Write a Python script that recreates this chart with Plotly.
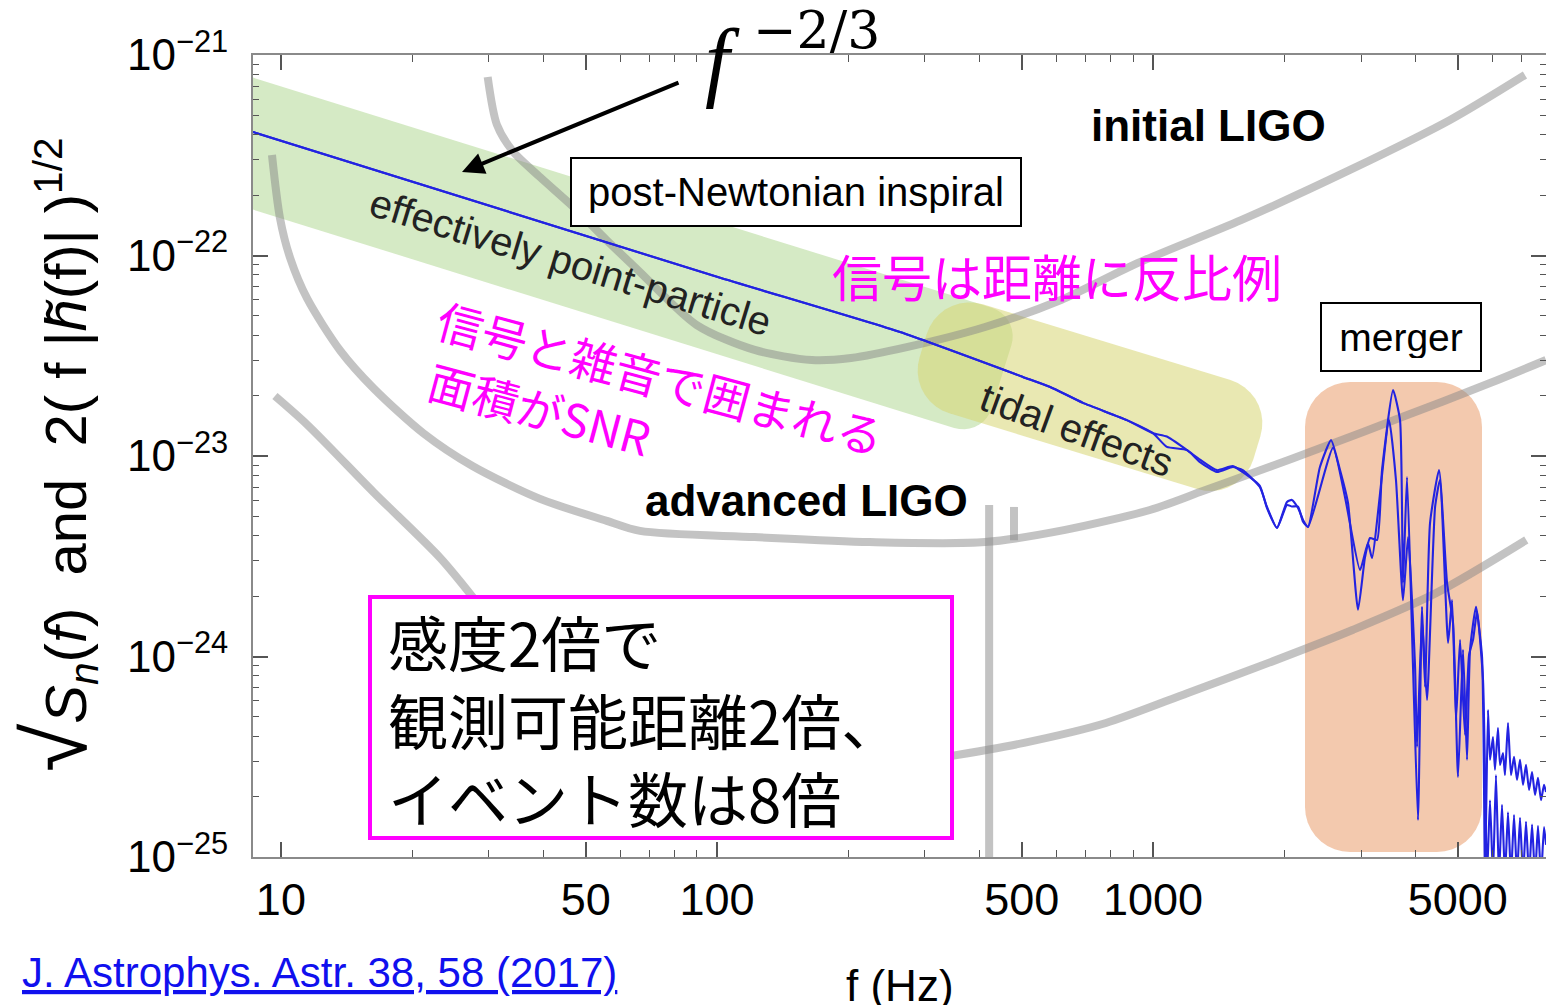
import numpy as np
import plotly.graph_objects as go

# ---------------- figure / axis geometry ----------------
W, H = 1546, 1005
ML, MR, MT, MB = 253, 0, 55, 148
PW, PH = W - ML - MR, H - MT - MB
X_RANGE = [8.63, 7968.0]          # Hz
Y_RANGE = [1e-25, 1e-21]
LX0, LX1 = np.log10(X_RANGE[0]), np.log10(X_RANGE[1])
LY0, LY1 = np.log10(Y_RANGE[0]), np.log10(Y_RANGE[1])

# ---------------- data ----------------
# waveform A
sigA_f = [8.63, 100, 263, 503, 581, 691, 871, 1000, 1076, 1197, 1282, 1402, 1524, 1607, 1758, 1826,
          1925, 2029, 2083, 2151, 2209, 2268, 2415, 2561, 2685, 2801, 2953, 3064, 3147, 3265, 3352,
          3553, 3686, 3745, 3825, 3948, 4053, 4140, 4207, 4319, 4529, 4725, 4877, 5007, 5141, 5251,
          5335, 5506, 5684, 5774, 5866, 5928, 6022, 6086, 6183, 6250, 6349, 6416, 6519, 6623, 6730,
          6838, 6946, 7058, 7170, 7285, 7402, 7519, 7638, 7761, 7886, 7970]
sigA_h = [4.13e-22, 7.83e-23, 4.15e-23, 2.48e-23, 2.21e-23, 1.84e-23, 1.51e-23, 1.30e-23, 1.11e-23,
          1.07e-23, 9.33e-24, 8.32e-24, 8.81e-24, 8.51e-24, 7.00e-24, 5.57e-24, 4.38e-24, 5.90e-24,
          6.04e-24, 5.51e-24, 4.80e-24, 4.43e-24, 8.81e-24, 1.20e-23, 8.51e-24, 5.83e-24, 1.71e-24,
          3.13e-24, 3.90e-24, 3.81e-24, 8.51e-24, 2.13e-23, 1.51e-23, 2.33e-24, 7.85e-24, 8.87e-25,
          1.53e-25, 1.77e-24, 7.05e-25, 4.63e-24, 8.51e-24, 2.33e-24, 1.47e-24, 2.51e-25, 1.08e-24,
          3.05e-25, 1.08e-24, 1.77e-24, 9.95e-25, 8.0e-26, 5.41e-25, 3.05e-25, 3.97e-25, 2.72e-25,
          4.40e-25, 2.88e-25, 3.30e-25, 2.56e-25, 4.66e-25, 2.56e-25, 3.16e-25, 2.42e-25, 3.05e-25,
          2.29e-25, 2.88e-25, 2.16e-25, 2.65e-25, 2.04e-25, 2.48e-25, 1.92e-25, 2.29e-25, 2.11e-25]
# waveform B
sigB_f = [8.63, 100, 263, 503, 581, 691, 871, 1000, 1076, 1197, 1282, 1402, 1524, 1607, 1758, 1826,
          1925, 2029, 2083, 2151, 2209, 2268, 2588, 2756, 2984, 3112, 3179, 3478, 3608, 3745, 3846,
          3991, 4033, 4140, 4251, 4436, 4551, 4751, 4852, 4955, 5061, 5195, 5308, 5421, 5536, 5714,
          5836, 5928, 6022, 6118, 6216, 6316, 6416, 6519, 6623, 6730, 6838, 6946, 7058, 7170, 7285,
          7402, 7519, 7638, 7761, 7886, 7970]
sigB_h = [4.13e-22, 7.83e-23, 4.15e-23, 2.48e-23, 2.21e-23, 1.84e-23, 1.51e-23, 1.30e-23, 1.25e-23,
          1.07e-23, 9.60e-24, 8.50e-24, 8.90e-24, 8.30e-24, 7.10e-24, 5.50e-24, 4.38e-24, 5.70e-24,
          5.60e-24, 5.60e-24, 4.70e-24, 4.43e-24, 1.10e-23, 6.25e-24, 2.70e-24, 3.68e-24, 3.10e-24,
          1.51e-23, 7.59e-24, 1.91e-24, 3.94e-24, 8.87e-25, 3.54e-25, 1.52e-24, 6.07e-25, 5.57e-24,
          7.59e-24, 1.17e-24, 1.91e-24, 4.82e-25, 1.21e-24, 4.06e-25, 1.02e-24, 1.21e-24, 1.67e-24,
          7.64e-25, 8.0e-26, 1.92e-25, 8.0e-26, 2.56e-25, 8.0e-26, 1.82e-25, 8.0e-26, 1.67e-25,
          8.0e-26, 1.62e-25, 8.0e-26, 1.57e-25, 8.0e-26, 1.50e-25, 8.0e-26, 1.45e-25, 8.0e-26,
          1.43e-25, 8.0e-26, 1.41e-25, 1.15e-25]

# detector noise curves
aligo_f = [9.54, 9.95, 10.5, 11.5, 13.7, 16.3, 21.2, 27.5, 39.3, 55.9, 66.6, 122, 224, 412, 629,
           984, 1282, 1668, 2545, 3687, 5929, 7968]
aligo_h = [3.17e-22, 1.54e-22, 9.72e-23, 6.07e-23, 3.34e-23, 2.18e-23, 1.30e-23, 8.91e-24, 6.11e-24,
           4.75e-24, 4.23e-24, 3.94e-24, 3.72e-24, 3.72e-24, 4.28e-24, 5.38e-24, 6.61e-24, 8.13e-24,
           1.14e-23, 1.55e-23, 2.31e-23, 3.01e-23]
iligo_f = [29.8, 31.3, 34.0, 39.3, 46.8, 55.9, 66.6, 89.9, 122, 165, 203, 274, 412, 615, 924, 1592,
           2830, 4800, 7130]
iligo_h = [7.77e-22, 4.48e-22, 3.32e-22, 2.46e-22, 1.75e-22, 1.19e-22, 8.27e-23, 4.50e-23, 3.38e-23,
           3.01e-23, 3.08e-23, 3.50e-23, 4.40e-23, 6.00e-23, 9.18e-23, 1.50e-22, 2.67e-22, 4.74e-22,
           7.95e-22]
third_f = [9.69, 11.5, 16.3, 23.2, 27.9, None, 333, 506, 780, 1202, 1866, 2877, 4456, 7180]
third_h = [1.99e-23, 1.43e-23, 6.61e-24, 3.10e-24, 1.91e-24, None, 3.15e-25, 3.71e-25, 4.66e-25,
           6.58e-25, 9.40e-25, 1.36e-24, 2.07e-24, 3.81e-24]
spike_f = [421, 421, None, 480, 480]
spike_h = [5.70e-24, 9.0e-26, None, 5.57e-24, 3.80e-24]

x_major = [10, 50, 100, 500, 1000, 5000]
x_major_text = ["10", "50", "100", "500", "1000", "5000"]
x_minor = [20, 30, 40, 60, 70, 80, 90, 200, 300, 400, 600, 700, 800, 900,
           2000, 3000, 4000, 6000, 7000]
y_major = [1e-25, 1e-24, 1e-23, 1e-22, 1e-21]
y_major_text = ["10<sup>−25</sup>", "10<sup>−24</sup>", "10<sup>−23</sup>",
                "10<sup>−22</sup>", "10<sup>−21</sup>"]
y_minor = [m * 10.0 ** e for e in range(-25, -21) for m in range(2, 10)]


# ---------------- helpers (pixel layout -> data / paper) ----------------
def px2data(xs, ys):
    xs, ys = np.asarray(xs, float), np.asarray(ys, float)
    f = 10 ** (LX0 + (xs - ML) / PW * (LX1 - LX0))
    h = 10 ** (LY1 - (ys - MT) / PH * (LY1 - LY0))
    return f, h


def pp(px, py):
    return (px - ML) / PW, (H - MB - py) / PH


def rounded_rect_px(cx, cy, L, w, ang_deg, r, n=10):
    a = np.deg2rad(ang_deg)
    ca, sa = np.cos(a), np.sin(a)
    hl, hw = L / 2, w / 2
    pts = []
    for (ux, vy, st) in [(hl - r, -hw + r, -90), (hl - r, hw - r, 0),
                         (-hl + r, hw - r, 90), (-hl + r, -hw + r, 180)]:
        for t in np.linspace(st, st + 90, n):
            tt = np.deg2rad(t)
            pts.append((ux + r * np.cos(tt), vy + r * np.sin(tt)))
    xs = [cx + u * ca - v * sa for u, v in pts]
    ys = [cy + u * sa + v * ca for u, v in pts]
    xs.append(xs[0]); ys.append(ys[0])
    return xs, ys


fig = go.Figure()

# highlight regions
for (geom, col) in [((565.7, 241.0, 913, 126, 17.3, 30), "rgba(172,214,140,0.5)"),
                    ((1090, 396.7, 349, 114, 17.0, 45), "rgba(215,213,115,0.55)"),
                    ((1393.5, 617, 177, 470, 0, 45), "rgba(242,198,170,0.95)")]:
    bx, by = rounded_rect_px(*geom)
    bf, bh = px2data(bx, by)
    fig.add_trace(go.Scatter(x=bf, y=bh, mode="lines", fill="toself", fillcolor=col,
                             line=dict(width=0), hoverinfo="skip", showlegend=False))

gray = "rgba(135,135,135,0.5)"
for fx, hy in [(aligo_f, aligo_h), (iligo_f, iligo_h), (third_f, third_h)]:
    fig.add_trace(go.Scatter(x=fx, y=hy, mode="lines", line=dict(color=gray, width=8, shape="spline",
                                                                   smoothing=0.8),
                             showlegend=False, hoverinfo="skip"))
fig.add_trace(go.Scatter(x=spike_f, y=spike_h, mode="lines", line=dict(color=gray, width=8),
                         showlegend=False, hoverinfo="skip"))

for fx, hy in [(sigA_f, sigA_h), (sigB_f, sigB_h)]:
    fig.add_trace(go.Scatter(x=fx, y=hy, mode="lines",
                             line=dict(color="rgb(35,35,225)", width=2.1, shape="spline", smoothing=0.5),
                             showlegend=False, hoverinfo="skip"))

ann = []
FONT = "Liberation Sans, Arial, sans-serif"
JP = "Noto Sans CJK JP, sans-serif"


def A(px, py, text, **kw):
    x, y = pp(px, py)
    d = dict(x=x, y=y, xref="paper", yref="paper", text=text, showarrow=False,
             xanchor="center", yanchor="middle")
    d.update(kw)
    ann.append(d)


A(796, 192, "post-Newtonian inspiral", font=dict(family=FONT, size=40, color="black"),
  bgcolor="white", bordercolor="black", borderwidth=2, borderpad=12, width=424, height=42)
A(1401, 337.5, "merger", font=dict(family=FONT, size=39, color="black"),
  bgcolor="white", bordercolor="black", borderwidth=2, borderpad=12, width=134, height=42)
A(1208, 126, "<b>initial LIGO</b>", font=dict(family=FONT, size=44, color="black"))
A(806, 500, "<b>advanced LIGO</b>", font=dict(family=FONT, size=44, color="black"))
A(570, 262, "effectively point-particle", textangle=17, font=dict(family=FONT, size=40, color="#222"))
A(1077, 430, "tidal effects", textangle=20, font=dict(family=FONT, size=40, color="#222"))
A(1057, 275, "信号は距離に反比例", font=dict(family=JP, size=50, color="#ff00ff"))
A(661, 377, "信号と雑音で囲まれる", textangle=15, font=dict(family=JP, size=46, color="#ff00ff"))
A(540, 408, "面積がSNR", textangle=15, font=dict(family=JP, size=46, color="#ff00ff"))
A(386, 718, "感度2倍で<br>観測可能距離2倍、<br>イベント数は8倍", xanchor="left", align="left",
  font=dict(family=JP, size=60, color="black"))
A(722, 60, "<i>f</i>", font=dict(family="Liberation Serif, serif", size=88, color="black"))
A(816, 30, "−2/3", font=dict(family="DejaVu Serif, serif", size=52, color="black"))
# arrow
tx, ty = pp(462, 172)
ann.append(dict(x=tx, y=ty, xref="paper", yref="paper", text="", showarrow=True,
                ax=680 - 462, ay=82 - 172, arrowhead=2, arrowsize=1.1, arrowwidth=4,
                arrowcolor="black", standoff=0))
# axis titles and reference
A(56, 455, "<span style='font-size:88px'>√</span><i>S<sub>n</sub></i>(<i>f</i>)  and  "
           "2( f |<i>h̃</i>(f)| )<sup>1/2</sup>", textangle=-90,
  font=dict(family=FONT, size=58, color="black"))
A(900, 985, "f (Hz)", font=dict(family=FONT, size=44, color="black"))
A(20, 972, "<u>J. Astrophys. Astr. 38, 58 (2017)</u>", xanchor="left",
  font=dict(family=FONT, size=42, color="#1010ee"))

# magenta box
bx0, by0 = pp(370, 838)
bx1, by1 = pp(952, 597)
shapes = [dict(type="rect", xref="paper", yref="paper", x0=bx0, y0=by0, x1=bx1, y1=by1,
               fillcolor="white", line=dict(color="#ff00ff", width=4), layer="above")]

axis_common = dict(type="log", showgrid=False, zeroline=False, showline=True, linecolor="#8a8a8a",
                   linewidth=2, mirror="ticks", ticks="inside", ticklen=15, tickwidth=1.5,
                   tickcolor="#555")
fig.update_layout(
    width=W, height=H, paper_bgcolor="white", plot_bgcolor="white",
    margin=dict(l=ML, r=MR, t=MT, b=MB, autoexpand=False),
    xaxis=dict(range=[LX0, LX1], tickvals=x_major, ticktext=x_major_text,
               minor=dict(tickvals=x_minor, ticks="inside", ticklen=7, tickcolor="#555", tickwidth=1.2),
               ticklabelstandoff=2, tickfont=dict(family=FONT, size=45, color="black"), **axis_common),
    yaxis=dict(range=[LY0, LY1], tickvals=y_major, ticktext=y_major_text,
               minor=dict(tickvals=y_minor, ticks="inside", ticklen=6, tickcolor="#555", tickwidth=1.2),
               ticklabelstandoff=14, tickfont=dict(family=FONT, size=44, color="black"), **axis_common),
    annotations=ann, shapes=shapes, showlegend=False,
)
fig.write_html("out.html", config={"displayModeBar": False},
               post_script="document.body.style.margin='0';document.body.style.overflow='hidden';")
